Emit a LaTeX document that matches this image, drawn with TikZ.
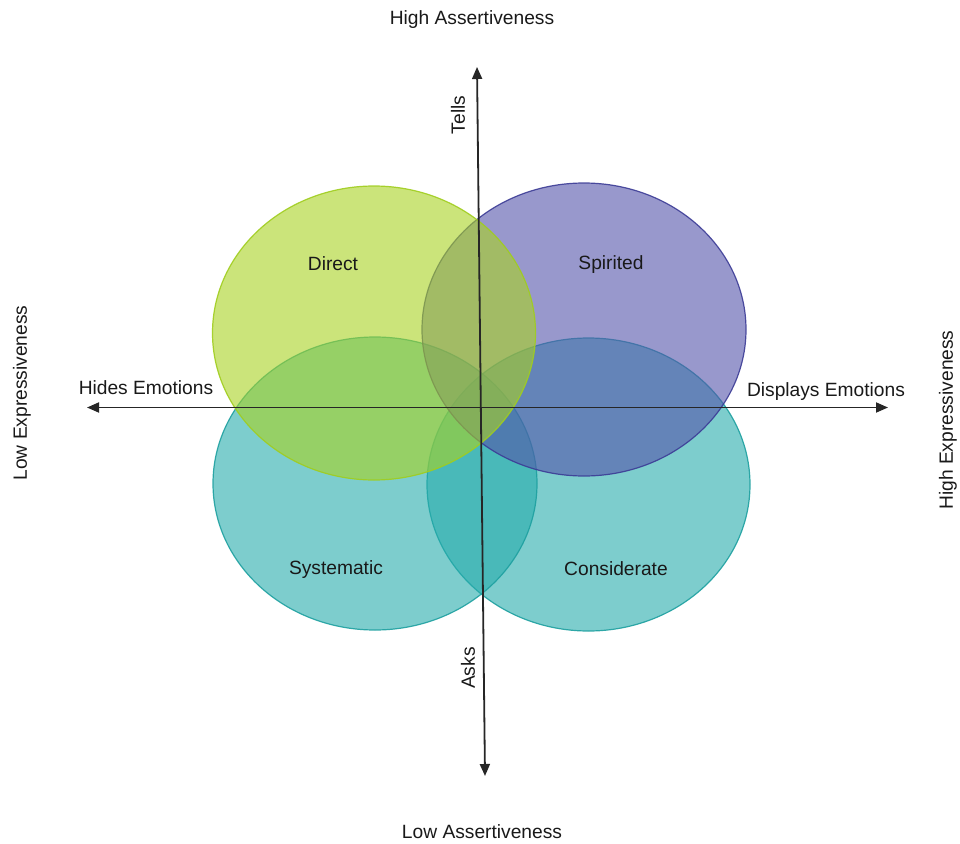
\documentclass[tikz,border=0pt]{standalone}
\usepackage{fontspec}
\setmainfont{Liberation Sans}
\usetikzlibrary{shapes.geometric,arrows.meta}
\definecolor{dirfill}{RGB}{168,210,34}
\definecolor{dirline}{RGB}{160,205,30}
\definecolor{spifill}{RGB}{84,84,170}
\definecolor{spiline}{RGB}{60,60,150}
\definecolor{sysfill}{RGB}{38,172,172}
\definecolor{sysline}{RGB}{30,160,160}
\definecolor{txt}{RGB}{25,25,25}
\tikzset{
  blob/.style={ellipse, draw, line width=1.2pt, fill opacity=0.6, draw opacity=0.9, inner sep=0pt},
  lbl/.style={font=\fontsize{19.2}{23}\selectfont, text=txt, inner sep=0pt},
  axis/.style={line width=1.8pt, draw=black!85, {Triangle[length=12pt,width=10pt]}-{Triangle[length=12pt,width=10pt]}}
}
\begin{document}
\begin{tikzpicture}[x=1pt,y=-1pt]
\useasboundingbox (0,0) rectangle (960,843);
% ellipses
\node (considerate) [blob, fill=sysfill, draw=sysline, minimum width=323pt, minimum height=293pt] at (588.5,484.5) {};
\node (systematic) [blob, fill=sysfill, draw=sysline, minimum width=324pt, minimum height=293pt] at (375,483.5) {};
\node (spirited) [blob, fill=spifill, draw=spiline, minimum width=324pt, minimum height=293pt] at (584,329.5) {};
\node (direct) [blob, fill=dirfill, draw=dirline, minimum width=323pt, minimum height=294pt] at (374,333) {};
% ellipse labels
\node (tdirect) [lbl] at (333,264) {Direct};
\node (tspirited) [lbl] at (611,265) {Spirited};
\node (tsystematic) [lbl] at (336,570) {Systematic};
\node (tconsiderate) [lbl] at (616,569) {Considerate};
% axes
\coordinate (top) at (477,67);
\coordinate (bot) at (485,776);
\coordinate (left) at (87,407.5);
\coordinate (right) at (888,407.5);
\draw[axis] (bot) -- (top);
\draw[axis] (left) -- (right);
% axis labels
\node (tells) [lbl, rotate=90] at (458,115) {Tells};
\node (asks) [lbl, rotate=90] at (468,668) {Asks};
\node (hides) [lbl] at (146,388) {Hides Emotions};
\node (displays) [lbl] at (826,392) {Displays Emotions};
\node (highA) [lbl] at (472,20) {High Assertiveness};
\node (lowA) [lbl] at (482,832) {Low Assertiveness};
\node (lowE) [lbl, rotate=90] at (22,393) {Low Expressiveness};
\node (highE) [lbl, rotate=90] at (948,420) {High Expressiveness};
\end{tikzpicture}
\end{document}
